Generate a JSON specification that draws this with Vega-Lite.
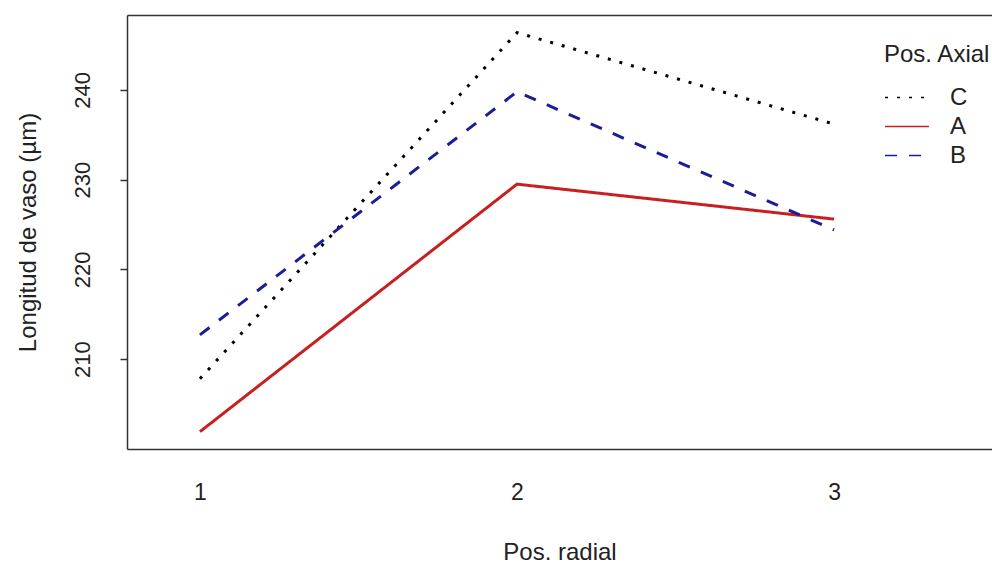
{
  "$schema": "https://vega.github.io/schema/vega-lite/v6.json",
  "width": 865,
  "height": 434,
  "autosize": {"type": "none"},
  "padding": {"left": 127, "top": 15, "right": 0, "bottom": 118},
  "background": "white",
  "data": {
    "values": [
      {"radial": 1, "axial": "C", "longitud": 207.8},
      {"radial": 2, "axial": "C", "longitud": 246.4},
      {"radial": 3, "axial": "C", "longitud": 236.2},
      {"radial": 1, "axial": "A", "longitud": 201.9},
      {"radial": 2, "axial": "A", "longitud": 229.5},
      {"radial": 3, "axial": "A", "longitud": 225.6},
      {"radial": 1, "axial": "B", "longitud": 212.7},
      {"radial": 2, "axial": "B", "longitud": 239.8},
      {"radial": 3, "axial": "B", "longitud": 224.4}
    ]
  },
  "config": {
    "view": {"stroke": null},
    "font": "Liberation Sans",
    "axis": {"grid": false, "domainColor": "#333333", "domainWidth": 1.5, "tickColor": "#333333", "labelColor": "#222222", "titleColor": "#222222", "labelFont": "Liberation Sans", "titleFont": "Liberation Sans", "titleFontWeight": "normal"}
  },
  "layer": [
    {
      "mark": {"type": "line", "strokeWidth": 3},
      "encoding": {
        "x": {
          "field": "radial", "type": "quantitative",
          "scale": {"domain": [0.77, 3.498], "nice": false, "zero": false},
          "axis": {"orient": "bottom", "values": [1, 2, 3], "ticks": false, "tickSize": 0, "labelFontSize": 23, "labelBaseline": "top", "labelPadding": 32, "labelAngle": 0, "title": "Pos. radial", "titleFontSize": 24, "titleY": 103, "titleBaseline": "middle"}
        },
        "y": {
          "field": "longitud", "type": "quantitative",
          "scale": {"domain": [199.97, 248.36], "nice": false, "zero": false},
          "axis": {"values": [210, 220, 230, 240], "tickSize": 7, "tickWidth": 1.5, "labelFontSize": 22, "labelAngle": -90, "labelAlign": "center", "labelBaseline": "middle", "labelPadding": 38, "title": "Longitud de vaso (µm)", "titleFontSize": 24, "titleX": -99, "titleBaseline": "middle"}
        },
        "color": {
          "field": "axial", "type": "nominal",
          "scale": {"domain": ["C", "A", "B"], "range": ["#000000", "#c82020", "#1c1c96"]},
          "legend": {"title": "Pos. Axial", "orient": "none", "legendX": 757, "legendY": 28, "padding": 0, "titleFontSize": 24, "titleFontWeight": "normal", "titleColor": "#222222", "titlePadding": 16, "labelFontSize": 24, "labelColor": "#222222", "symbolType": "stroke", "symbolSize": 1936, "symbolStrokeWidth": 1.5, "clipHeight": 29, "rowPadding": 0, "labelOffset": 20}
        },
        "strokeDash": {
          "field": "axial", "type": "nominal",
          "scale": {"domain": ["C", "A", "B"], "range": [[3, 9], [1, 0], [12, 12]]},
          "legend": {"title": "Pos. Axial", "orient": "none", "legendX": 757, "legendY": 28, "padding": 0, "titleFontSize": 24, "titleFontWeight": "normal", "titleColor": "#222222", "titlePadding": 16, "labelFontSize": 24, "labelColor": "#222222", "symbolType": "stroke", "symbolSize": 1936, "symbolStrokeWidth": 1.5, "clipHeight": 29, "rowPadding": 0, "labelOffset": 20}
        }
      }
    },
    {
      "mark": {"type": "line", "opacity": 0},
      "encoding": {
        "x": {
          "field": "radial", "type": "quantitative",
          "axis": {"orient": "top", "labels": false, "ticks": false, "title": null, "domain": true}
        },
        "y": {"field": "longitud", "type": "quantitative"},
        "detail": {"field": "axial", "type": "nominal"}
      }
    }
  ],
  "resolve": {"axis": {"x": "independent"}}
}
